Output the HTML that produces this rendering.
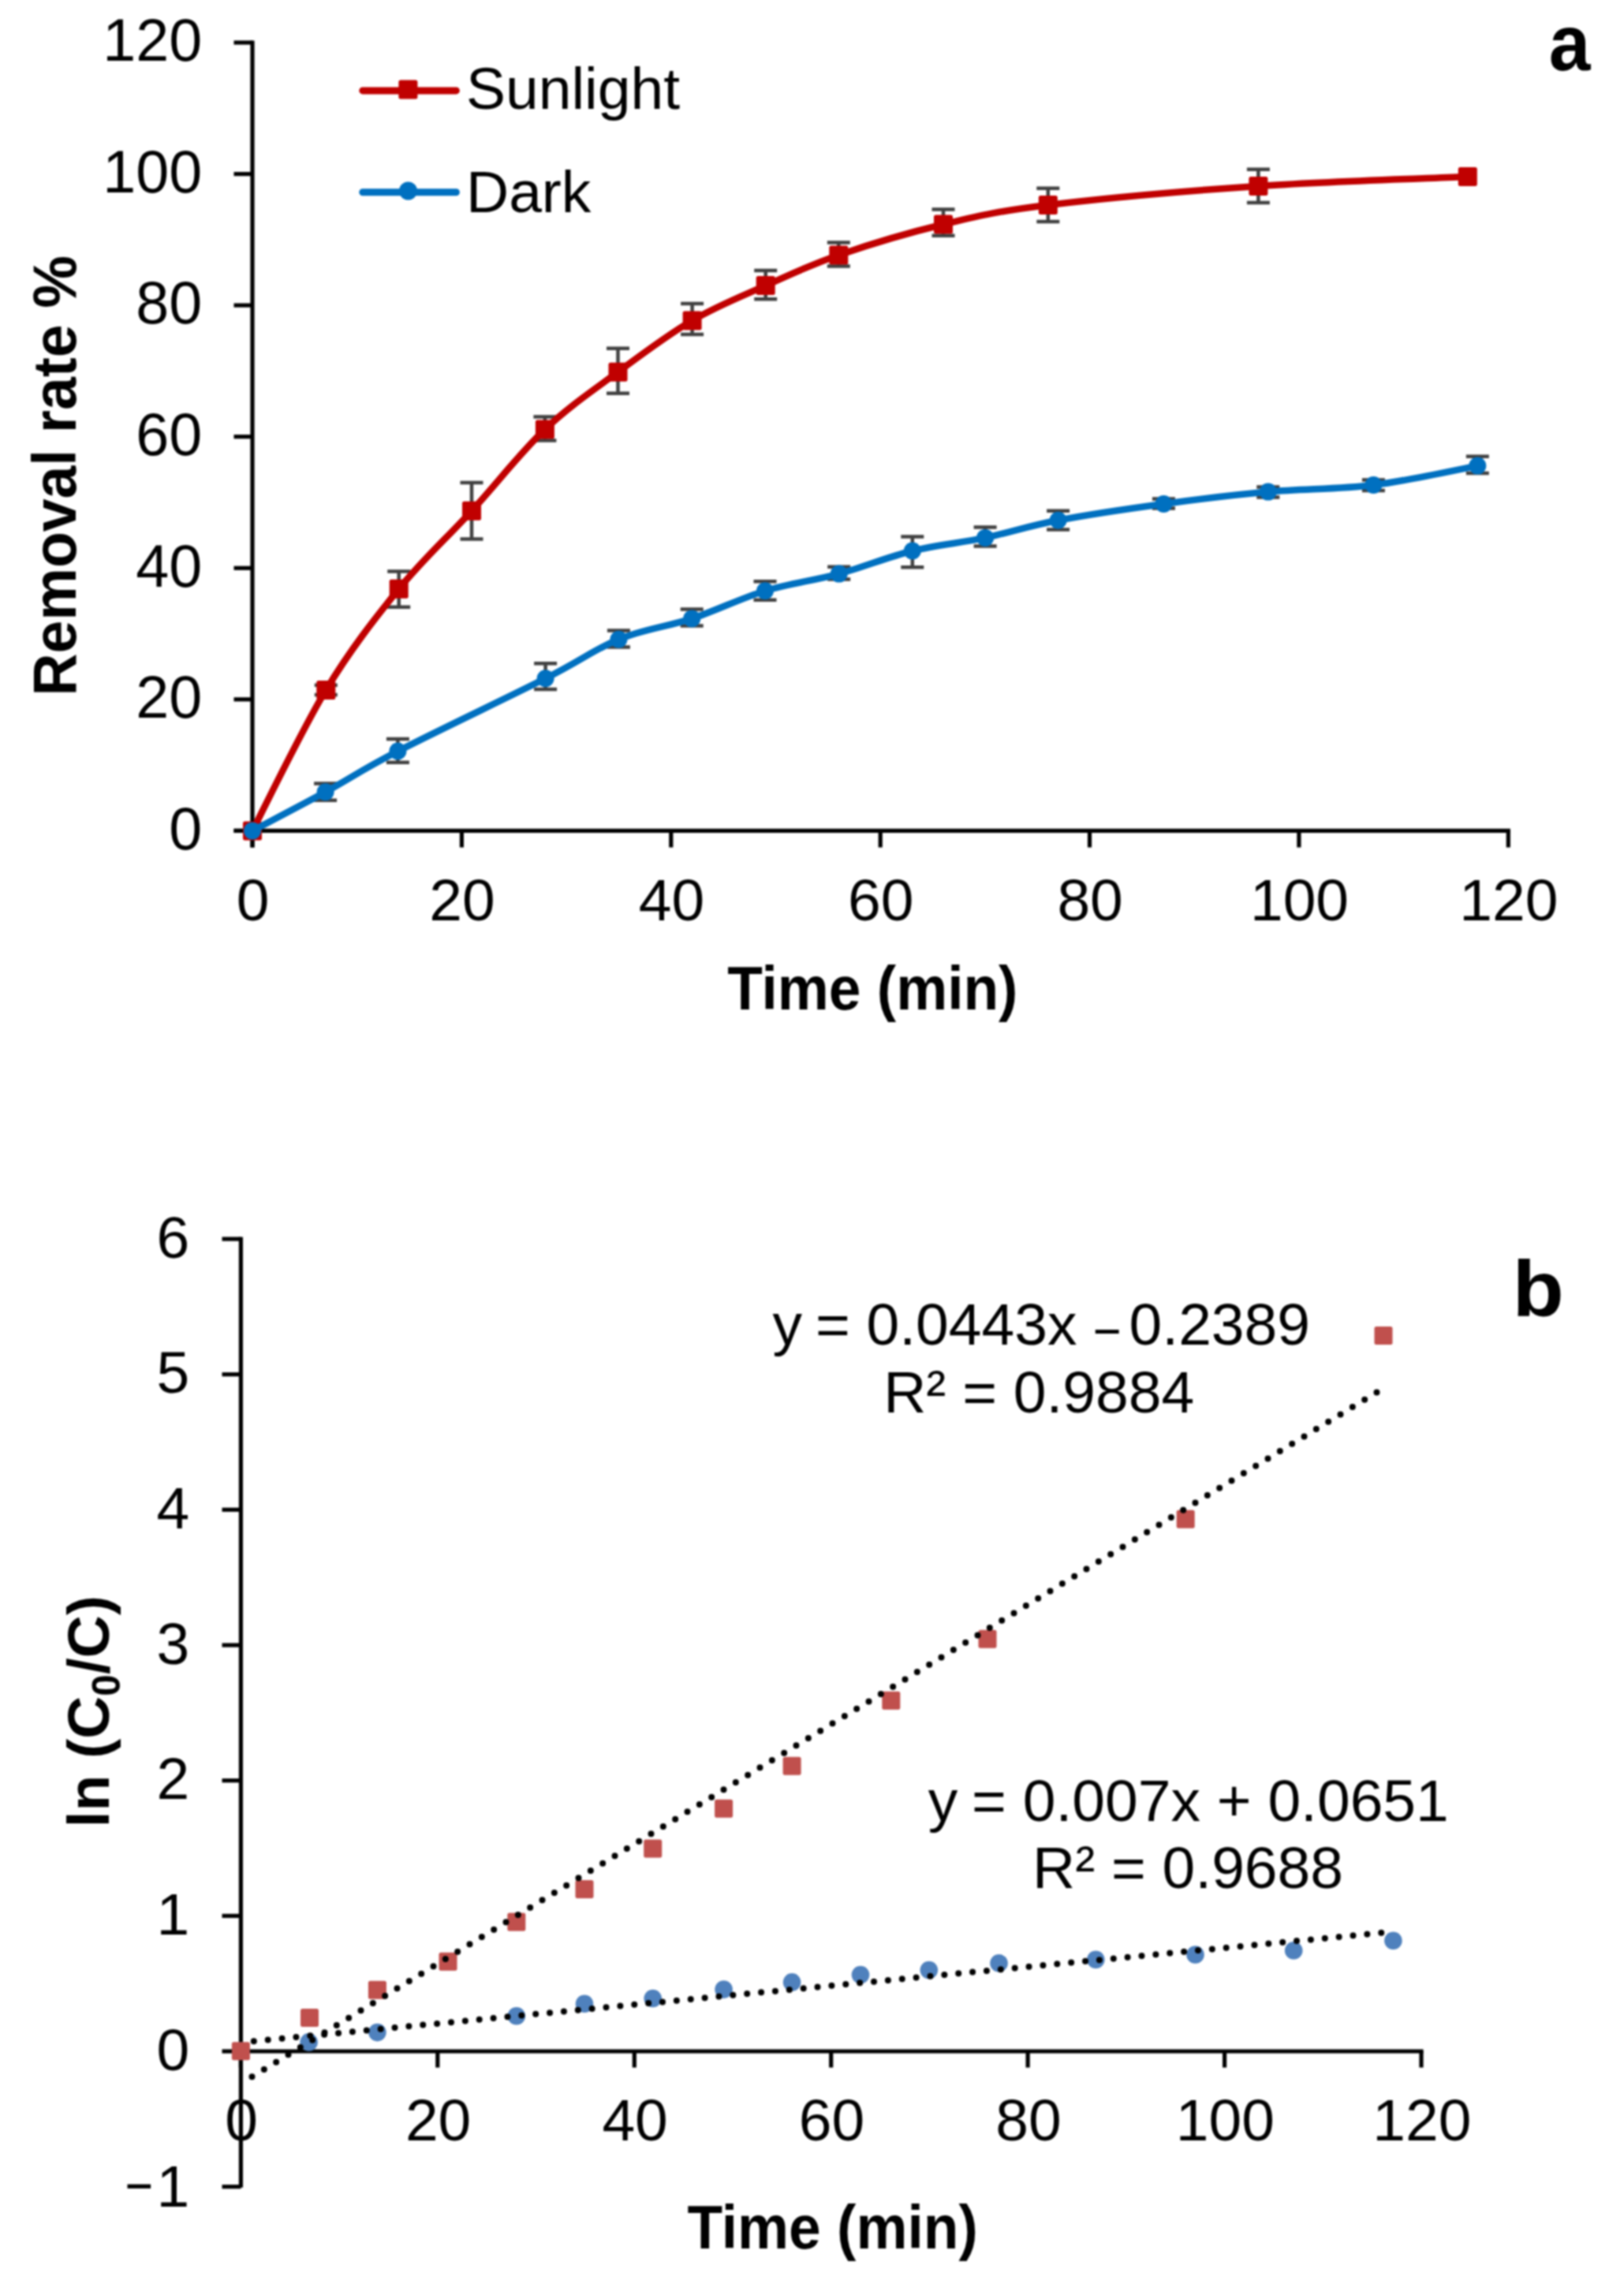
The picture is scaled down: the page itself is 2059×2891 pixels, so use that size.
<!DOCTYPE html><html><head><meta charset="utf-8"><title>Removal rate and kinetics</title>
<style>html,body{margin:0;padding:0;background:#fff;overflow:hidden}svg{display:block;filter:blur(0.8px)}text{font-family:'Liberation Sans',Arial,sans-serif;fill:#000}</style></head><body>
<svg width="2059" height="2891" viewBox="0 0 2059 2891">
<rect width="2059" height="2891" fill="#fff"/>
<g stroke="#000" stroke-width="5.2" fill="none" stroke-linecap="butt">
<path d="M320,51.4 V1074.5"/>
<path d="M296.5,1053.4 H1914.9"/>
<path d="M296.5,1053.4 H320"/>
<path d="M296.5,886.8 H320"/>
<path d="M296.5,720.3 H320"/>
<path d="M296.5,553.7 H320"/>
<path d="M296.5,387.1 H320"/>
<path d="M296.5,220.6 H320"/>
<path d="M296.5,54 H320"/>
<path d="M320,1053.4 V1074.5"/>
<path d="M585.4,1053.4 V1074.5"/>
<path d="M850.8,1053.4 V1074.5"/>
<path d="M1116.2,1053.4 V1074.5"/>
<path d="M1381.5,1053.4 V1074.5"/>
<path d="M1646.9,1053.4 V1074.5"/>
<path d="M1912.3,1053.4 V1074.5"/>
</g>
<g style="font-size:75.5px" text-anchor="end">
<text x="256.2" y="1076.6">0</text>
<text x="256.2" y="910">20</text>
<text x="256.2" y="743.5">40</text>
<text x="256.2" y="576.9">60</text>
<text x="256.2" y="410.3">80</text>
<text x="256.2" y="243.8">100</text>
<text x="256.2" y="77.2">120</text>
</g>
<g style="font-size:75px" text-anchor="middle">
<text x="320.6" y="1166.5">0</text>
<text x="586" y="1166.5">20</text>
<text x="851.4" y="1166.5">40</text>
<text x="1116.8" y="1166.5">60</text>
<text x="1382.1" y="1166.5">80</text>
<text x="1647.5" y="1166.5">100</text>
<text x="1912.9" y="1166.5">120</text>
</g>
<text transform="translate(1106.3,1280.3) scale(0.975,1.035)" text-anchor="middle" style="font-size:75px;font-weight:bold">Time (min)</text>
<text transform="translate(95.8,603.3) rotate(-90) scale(1,1.03)" text-anchor="middle" style="font-size:75px;font-weight:bold">Removal rate %</text>
<text transform="translate(1963.8,89.3) scale(0.937,1)" style="font-size:101px;font-weight:bold">a</text>
<g stroke-linecap="round" fill="none" stroke-width="9">
<path d="M459.8,114.9 H578.4" stroke="#C00000"/>
<path d="M459.8,243.7 H578.4" stroke="#0070C0"/>
</g>
<rect x="505.4" y="101.4" width="24" height="24" rx="2.5" fill="#C00000"/>
<circle cx="517.5" cy="242" r="11.5" fill="#0070C0"/>
<text x="591" y="137.8" style="font-size:75px">Sunlight</text>
<text x="591" y="268.6" style="font-size:75px">Dark</text>
<path d="M413.3,868.7 V881 M398.8,868.7 h29 M398.8,881 h29 M505.7,724.6 V769.7 M491.2,724.6 h29 M491.2,769.7 h29 M598,612.1 V683.5 M583.5,612.1 h29 M583.5,683.5 h29 M690.9,528.4 V558.4 M676.4,528.4 h29 M676.4,558.4 h29 M783.5,441.7 V498.8 M769,441.7 h29 M769,498.8 h29 M877.6,385 V424.1 M863.1,385 h29 M863.1,424.1 h29 M970.7,343.1 V379.3 M956.2,343.1 h29 M956.2,379.3 h29 M1063.3,307.4 V337.4 M1048.8,307.4 h29 M1048.8,337.4 h29 M1196,265.5 V298.8 M1181.5,265.5 h29 M1181.5,298.8 h29 M1328.8,238.8 V280.9 M1314.3,238.8 h29 M1314.3,280.9 h29 M1595.4,214.8 V256.9 M1580.9,214.8 h29 M1580.9,256.9 h29" fill="none" stroke="#404040" stroke-width="4.5" />
<path d="M320,1053.4 C335.6,1023.7 382.4,926 413.3,874.9 C444.2,823.8 474.9,784.6 505.7,746.8 C536.5,708.9 567.1,681.5 598,647.8 C628.9,614.1 660,573.8 690.9,544.4 C721.8,515 752.4,494.7 783.5,471.7 C814.6,448.7 846.4,424.7 877.6,406.4 C908.8,388.1 939.8,375.9 970.7,362.1 C1001.7,348.3 1025.8,336.3 1063.3,323.4 C1100.8,310.5 1151.8,295.1 1196,284.5 C1240.2,273.9 1262.2,268.1 1328.8,260 C1395.4,251.9 1506.7,241.9 1595.4,235.9 C1684.1,229.9 1816.6,225.9 1860.8,223.9" fill="none" stroke="#C00000" stroke-width="8.5" stroke-linejoin="round" stroke-linecap="round"/>
<rect x="308" y="1041.4" width="24" height="24" rx="2.5" fill="#C00000"/>
<rect x="401.3" y="862.9" width="24" height="24" rx="2.5" fill="#C00000"/>
<rect x="493.7" y="734.8" width="24" height="24" rx="2.5" fill="#C00000"/>
<rect x="586" y="635.8" width="24" height="24" rx="2.5" fill="#C00000"/>
<rect x="678.9" y="532.4" width="24" height="24" rx="2.5" fill="#C00000"/>
<rect x="771.5" y="459.7" width="24" height="24" rx="2.5" fill="#C00000"/>
<rect x="865.6" y="394.4" width="24" height="24" rx="2.5" fill="#C00000"/>
<rect x="958.7" y="350.1" width="24" height="24" rx="2.5" fill="#C00000"/>
<rect x="1051.3" y="311.4" width="24" height="24" rx="2.5" fill="#C00000"/>
<rect x="1184" y="272.5" width="24" height="24" rx="2.5" fill="#C00000"/>
<rect x="1316.8" y="248" width="24" height="24" rx="2.5" fill="#C00000"/>
<rect x="1583.4" y="223.9" width="24" height="24" rx="2.5" fill="#C00000"/>
<rect x="1848.8" y="211.9" width="24" height="24" rx="2.5" fill="#C00000"/>
<path d="M412.6,993.6 V1014.8 M398.1,993.6 h29 M398.1,1014.8 h29 M504.4,937 V966.7 M489.9,937 h29 M489.9,966.7 h29 M691.6,841.2 V873.9 M677.1,841.2 h29 M677.1,873.9 h29 M784.4,799.6 V820.4 M769.9,799.6 h29 M769.9,820.4 h29 M877.2,772.5 V793.5 M862.7,772.5 h29 M862.7,793.5 h29 M970,737.3 V760.8 M955.5,737.3 h29 M955.5,760.8 h29 M1063.7,718.7 V734.5 M1049.2,718.7 h29 M1049.2,734.5 h29 M1156.8,680.5 V719.3 M1142.3,680.5 h29 M1142.3,719.3 h29 M1249.1,668.6 V692.4 M1234.6,668.6 h29 M1234.6,692.4 h29 M1341.6,647.8 V671.4 M1327.1,647.8 h29 M1327.1,671.4 h29 M1475.4,632.6 V644.5 M1460.9,632.6 h29 M1460.9,644.5 h29 M1607.8,617.6 V630.5 M1593.3,617.6 h29 M1593.3,630.5 h29 M1741.4,608.5 V621.9 M1726.9,608.5 h29 M1726.9,621.9 h29 M1873.3,578.8 V599.9 M1858.8,578.8 h29 M1858.8,599.9 h29" fill="none" stroke="#404040" stroke-width="4.5" />
<path d="M320,1053.4 C335.4,1045.2 381.9,1021 412.6,1004.2 C443.3,987.4 457.9,976.5 504.4,952.5 C550.9,928.5 644.9,883.9 691.6,860.3 C738.3,836.7 753.5,823.4 784.4,810.7 C815.3,798.1 846.3,794.6 877.2,784.4 C908.1,774.1 938.9,758.7 970,749.2 C1001.1,739.7 1032.6,736.1 1063.7,727.6 C1094.8,719.1 1125.9,706.1 1156.8,698.5 C1187.7,690.9 1218.3,688.4 1249.1,681.9 C1279.9,675.4 1303.9,666.9 1341.6,659.8 C1379.3,652.6 1431,645 1475.4,639 C1519.8,633 1563.5,627.6 1607.8,623.6 C1652.1,619.6 1697.2,620.5 1741.4,615 C1785.7,609.5 1851.3,594.7 1873.3,590.6" fill="none" stroke="#0070C0" stroke-width="8.5" stroke-linejoin="round" stroke-linecap="round"/>
<circle cx="320" cy="1053.4" r="11" fill="#0070C0"/>
<circle cx="412.6" cy="1004.2" r="11" fill="#0070C0"/>
<circle cx="504.4" cy="952.5" r="11" fill="#0070C0"/>
<circle cx="691.6" cy="860.3" r="11" fill="#0070C0"/>
<circle cx="784.4" cy="810.7" r="11" fill="#0070C0"/>
<circle cx="877.2" cy="784.4" r="11" fill="#0070C0"/>
<circle cx="970" cy="749.2" r="11" fill="#0070C0"/>
<circle cx="1063.7" cy="727.6" r="11" fill="#0070C0"/>
<circle cx="1156.8" cy="698.5" r="11" fill="#0070C0"/>
<circle cx="1249.1" cy="681.9" r="11" fill="#0070C0"/>
<circle cx="1341.6" cy="659.8" r="11" fill="#0070C0"/>
<circle cx="1475.4" cy="639" r="11" fill="#0070C0"/>
<circle cx="1607.8" cy="623.6" r="11" fill="#0070C0"/>
<circle cx="1741.4" cy="615" r="11" fill="#0070C0"/>
<circle cx="1873.3" cy="590.6" r="11" fill="#0070C0"/>
<g stroke="#000" stroke-width="5.2" fill="none">
<path d="M305.4,1568.4 V2773.8"/>
<path d="M305.4,2601 H1804.6"/>
<path d="M281.5,2772.7 H305.4"/>
<path d="M281.5,2601 H305.4"/>
<path d="M281.5,2429.3 H305.4"/>
<path d="M281.5,2257.7 H305.4"/>
<path d="M281.5,2086 H305.4"/>
<path d="M281.5,1914.3 H305.4"/>
<path d="M281.5,1742.7 H305.4"/>
<path d="M281.5,1571 H305.4"/>
<path d="M305.4,2601 V2621.6"/>
<path d="M554.8,2601 V2621.6"/>
<path d="M804.3,2601 V2621.6"/>
<path d="M1053.7,2601 V2621.6"/>
<path d="M1303.1,2601 V2621.6"/>
<path d="M1552.6,2601 V2621.6"/>
<path d="M1802,2601 V2621.6"/>
</g>
<g style="font-size:75px" text-anchor="end">
<text x="240.3" y="2624.5">0</text>
<text x="240.3" y="2452.8">1</text>
<text x="240.3" y="2281.2">2</text>
<text x="240.3" y="2109.5">3</text>
<text x="240.3" y="1937.8">4</text>
<text x="240.3" y="1766.2">5</text>
<text x="240.3" y="1594.5">6</text>
</g>
<text x="240.3" y="2797.8" text-anchor="end" style="font-size:75px">1</text>
<text transform="translate(158.4,2797.4) scale(0.812,1)" style="font-size:75px">&#8722;</text>
<g style="font-size:75px" text-anchor="middle">
<text x="306.2" y="2713.8">0</text>
<text x="555.6" y="2713.8">20</text>
<text x="805.1" y="2713.8">40</text>
<text x="1054.5" y="2713.8">60</text>
<text x="1303.9" y="2713.8">80</text>
<text x="1553.4" y="2713.8">100</text>
<text x="1802.8" y="2713.8">120</text>
</g>
<text transform="translate(1055.6,2851.1) scale(0.975,1.035)" text-anchor="middle" style="font-size:75px;font-weight:bold">Time (min)</text>
<text transform="translate(138,2170.2) rotate(-90)" text-anchor="middle" style="font-size:75px;font-weight:bold">ln (C<tspan style="font-size:49.6px" dy="14.3">0</tspan><tspan dy="-14.3">/C)</tspan></text>
<text transform="translate(1917.6,1669.3) scale(1.075,1)" style="font-size:99.5px;font-weight:bold">b</text>
<circle cx="305.4" cy="2600.7" r="11.3" fill="#4F81BD"/>
<circle cx="391.6" cy="2589.4" r="11.3" fill="#4F81BD"/>
<circle cx="478.4" cy="2577.1" r="11.3" fill="#4F81BD"/>
<circle cx="654.8" cy="2556.2" r="11.3" fill="#4F81BD"/>
<circle cx="741" cy="2540.8" r="11.3" fill="#4F81BD"/>
<circle cx="827.7" cy="2534" r="11.3" fill="#4F81BD"/>
<circle cx="917.6" cy="2522.6" r="11.3" fill="#4F81BD"/>
<circle cx="1004.1" cy="2513.4" r="11.3" fill="#4F81BD"/>
<circle cx="1091" cy="2504.1" r="11.3" fill="#4F81BD"/>
<circle cx="1177.8" cy="2498" r="11.3" fill="#4F81BD"/>
<circle cx="1266.5" cy="2489.3" r="11.3" fill="#4F81BD"/>
<circle cx="1389.3" cy="2484.7" r="11.3" fill="#4F81BD"/>
<circle cx="1515.5" cy="2478.5" r="11.3" fill="#4F81BD"/>
<circle cx="1640.2" cy="2473.3" r="11.3" fill="#4F81BD"/>
<circle cx="1766.4" cy="2460.7" r="11.3" fill="#4F81BD"/>
<rect x="293.9" y="2589.2" width="23" height="23" rx="2.5" fill="#C0504D"/>
<rect x="381" y="2547.1" width="23" height="23" rx="2.5" fill="#C0504D"/>
<rect x="466.9" y="2511.7" width="23" height="23" rx="2.5" fill="#C0504D"/>
<rect x="556.5" y="2475.7" width="23" height="23" rx="2.5" fill="#C0504D"/>
<rect x="643.3" y="2425.5" width="23" height="23" rx="2.5" fill="#C0504D"/>
<rect x="729.5" y="2383.9" width="23" height="23" rx="2.5" fill="#C0504D"/>
<rect x="816.2" y="2332.5" width="23" height="23" rx="2.5" fill="#C0504D"/>
<rect x="906.1" y="2281.7" width="23" height="23" rx="2.5" fill="#C0504D"/>
<rect x="992.6" y="2227.8" width="23" height="23" rx="2.5" fill="#C0504D"/>
<rect x="1118.3" y="2144.7" width="23" height="23" rx="2.5" fill="#C0504D"/>
<rect x="1240.5" y="2066.8" width="23" height="23" rx="2.5" fill="#C0504D"/>
<rect x="1491.7" y="1914.8" width="23" height="23" rx="2.5" fill="#C0504D"/>
<rect x="1742.5" y="1682" width="23" height="23" rx="2.5" fill="#C0504D"/>
<g fill="none" stroke="#000" stroke-width="8" stroke-linecap="round" stroke-dasharray="0 17.95" stroke-dashoffset="1.45">
<path d="M305.4,2641.9 L1752.1,1761.4"/>
<path d="M305.4,2589.8 L1764.6,2449.5"/>
</g>
<g style="font-size:75px">
<text x="979.5" y="1704.7">y</text>
<text x="1033.9" y="1704.7">= 0.0443x</text>
<text transform="translate(1388.8,1706.7) scale(0.717,1)">&#8211;</text>
<text x="1431.6" y="1704.7">0.2389</text>
<text x="1120.2" y="1790.7">R² = 0.9884</text>
<text x="1176.8" y="2308.8">y</text>
<text x="1232.1" y="2308.8">= 0.007x + 0.0651</text>
<text x="1309" y="2394">R² = 0.9688</text>
</g>
</svg></body></html>
